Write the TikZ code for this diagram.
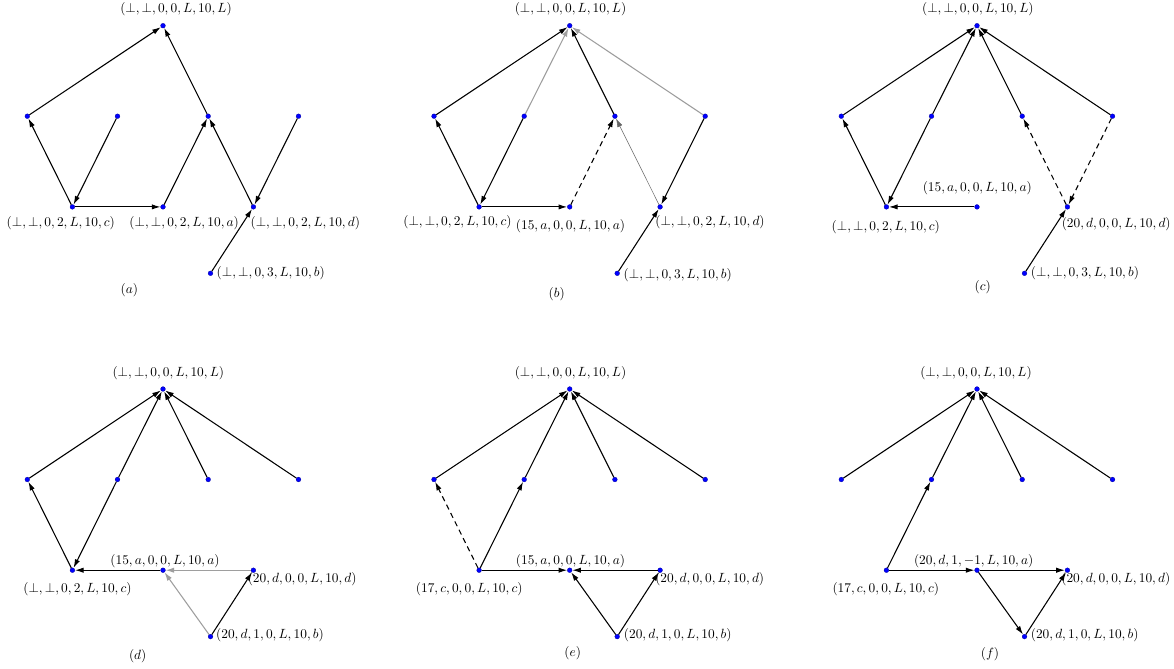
\documentclass[tikz,border=0pt]{standalone}
\usetikzlibrary{arrows.meta}
\begin{document}
\begin{tikzpicture}[x=0.75pt,y=-0.75pt,
  dot/.style={circle,fill=blue,draw=blue!60!black,line width=0.2pt,inner sep=0pt,minimum size=3.6pt},
  lbl/.style={inner sep=0pt,font=\fontsize{10}{12}\selectfont},
  e/.style={-{Latex[length=6.5pt,width=4pt]},line width=0.8pt,draw=black},
  g/.style={e,draw=black!38},
  tg/.style={e,draw=black!60,line width=0.4pt},
  ds/.style={e,dash pattern=on 4pt off 3pt}]
\useasboundingbox (0,0) rectangle (1174,668);
\newcommand{\mkpanel}[3]{%
  \begin{scope}[shift={(#2,#3)}]
    \node[dot] (#1T) at (0,0) {};
    \node[dot] (#1M1) at (-135.7,90.5) {};
    \node[dot] (#1M2) at (-45.5,90.5) {};
    \node[dot] (#1M3) at (45.2,90.5) {};
    \node[dot] (#1M4) at (135.5,90.5) {};
    \node[dot] (#1C) at (-90.6,181.2) {};
    \node[dot] (#1A) at (0,181.2) {};
    \node[dot] (#1D) at (90.4,181.2) {};
    \node[dot] (#1B) at (47.5,247.6) {};
  \end{scope}}
\mkpanel{a}{163}{25.7}
\mkpanel{b}{569.7}{25.7}
\mkpanel{c}{977}{25.7}
\mkpanel{d}{163}{389}
\mkpanel{e}{569.7}{389}
\mkpanel{f}{977}{389}
% labels (a)
\node[lbl] (aTl) at (176,9.3) {$(\bot,\bot,0,0,L,10,L)$};
\node[lbl] (aCl) at (60.8,222.7) {$(\bot,\bot,0,2,L,10,c)$};
\node[lbl] (aAl) at (184.2,222.7) {$(\bot,\bot,0,2,L,10,a)$};
\node[lbl] (aDl) at (305.3,222.7) {$(\bot,\bot,0,2,L,10,d)$};
\node[lbl] (aBl) at (270.8,272.7) {$(\bot,\bot,0,3,L,10,b)$};
\node[lbl] (aCap) at (129.3,290) {$(a)$};
% labels (b)
\node[lbl] (bTl) at (570.5,9.3) {$(\bot,\bot,0,0,L,10,L)$};
\node[lbl] (bCl) at (457.5,222.3) {$(\bot,\bot,0,2,L,10,c)$};
\node[lbl] (bAl) at (570.5,225.7) {$(15,a,0,0,L,10,a)$};
\node[lbl] (bDl) at (710,222.3) {$(\bot,\bot,0,2,L,10,d)$};
\node[lbl] (bBl) at (677.8,275.3) {$(\bot,\bot,0,3,L,10,b)$};
\node[lbl] (bCap) at (556.7,294.3) {$(b)$};
% labels (c)
\node[lbl] (cTl) at (977.8,9.3) {$(\bot,\bot,0,0,L,10,L)$};
\node[lbl] (cAl) at (977.3,188.3) {$(15,a,0,0,L,10,a)$};
\node[lbl] (cCl) at (885.8,227.3) {$(\bot,\bot,0,2,L,10,c)$};
\node[lbl] (cDl) at (1116.2,224) {$(20,d,0,0,L,10,d)$};
\node[lbl] (cBl) at (1085,272.7) {$(\bot,\bot,0,3,L,10,b)$};
\node[lbl] (cCap) at (982.7,286.7) {$(c)$};
% labels (d)
\node[lbl] (dTl) at (168.3,373.3) {$(\bot,\bot,0,0,L,10,L)$};
\node[lbl] (dAl) at (165,561.5) {$(15,a,0,0,L,10,a)$};
\node[lbl] (dCl) at (77.5,589.3) {$(\bot,\bot,0,2,L,10,c)$};
\node[lbl] (dDl) at (302.2,579.3) {$(20,d,0,0,L,10,d)$};
\node[lbl] (dBl) at (270,635.3) {$(20,d,1,0,L,10,b)$};
\node[lbl] (dCap) at (137.7,656) {$(d)$};
% labels (e)
\node[lbl] (eTl) at (570.5,373.3) {$(\bot,\bot,0,0,L,10,L)$};
\node[lbl] (eAl) at (570.5,561.5) {$(15,a,0,0,L,10,a)$};
\node[lbl] (eCl) at (469.2,589.3) {$(17,c,0,0,L,10,c)$};
\node[lbl] (eDl) at (709.7,579.3) {$(20,d,0,0,L,10,d)$};
\node[lbl] (eBl) at (677.8,635) {$(20,d,1,0,L,10,b)$};
\node[lbl] (eCap) at (572.7,653.3) {$(e)$};
% labels (f)
\node[lbl] (fTl) at (976,373.3) {$(\bot,\bot,0,0,L,10,L)$};
\node[lbl] (fAl) at (973.7,561.5) {$(20,d,1,-1,L,10,a)$};
\node[lbl] (fCl) at (885.8,589.3) {$(17,c,0,0,L,10,c)$};
\node[lbl] (fDl) at (1115.8,579.3) {$(20,d,0,0,L,10,d)$};
\node[lbl] (fBl) at (1084.7,635.3) {$(20,d,1,0,L,10,b)$};
\node[lbl] (fCap) at (990,654) {$(f)$};
% edges (a)
\draw[e] (aC) -- (aM1);
\draw[e] (aM1) -- (aT);
\draw[e] (aM2) -- (aC);
\draw[e] (aC) -- (aA);
\draw[e] (aA) -- (aM3);
\draw[e] (aM3) -- (aT);
\draw[e] (aD) -- (aM3);
\draw[e] (aM4) -- (aD);
\draw[e] (aB) -- (aD);
% edges (b)
\draw[e] (bC) -- (bM1);
\draw[e] (bM1) -- (bT);
\draw[g] (bM2) -- (bT);
\draw[e] (bM2) -- (bC);
\draw[e] (bC) -- (bA);
\draw[ds] (bA) -- (bM3);
\draw[e] (bM3) -- (bT);
\draw[tg] (bD) -- (bM3);
\draw[g] (bM4) -- (bT);
\draw[e] (bM4) -- (bD);
\draw[e] (bB) -- (bD);
% edges (c)
\draw[e] (cC) -- (cM1);
\draw[e] (cM1) -- (cT);
\draw[e] (cM2) -- (cT);
\draw[e] (cM2) -- (cC);
\draw[e] (cA) -- (cC);
\draw[ds] (cD) -- (cM3);
\draw[e] (cM3) -- (cT);
\draw[ds] (cM4) -- (cD);
\draw[e] (cM4) -- (cT);
\draw[e] (cB) -- (cD);
% edges (d)
\draw[e] (dC) -- (dM1);
\draw[e] (dM1) -- (dT);
\draw[e] (dM2) -- (dT);
\draw[e] (dM2) -- (dC);
\draw[e] (dM3) -- (dT);
\draw[e] (dM4) -- (dT);
\draw[e] (dA) -- (dC);
\draw[g] (dD) -- (dA);
\draw[g] (dB) -- (dA);
\draw[e] (dB) -- (dD);
% edges (e)
\draw[ds] (eC) -- (eM1);
\draw[e] (eM1) -- (eT);
\draw[e] (eC) -- (eM2);
\draw[e] (eM2) -- (eT);
\draw[e] (eM3) -- (eT);
\draw[e] (eM4) -- (eT);
\draw[e] (eC) -- (eA);
\draw[e] (eD) -- (eA);
\draw[e] (eB) -- (eA);
\draw[e] (eB) -- (eD);
% edges (f)
\draw[e] (fM1) -- (fT);
\draw[e] (fC) -- (fM2);
\draw[e] (fM2) -- (fT);
\draw[e] (fM3) -- (fT);
\draw[e] (fM4) -- (fT);
\draw[e] (fC) -- (fA);
\draw[e] (fA) -- (fD);
\draw[e] (fA) -- (fB);
\draw[e] (fB) -- (fD);
\end{tikzpicture}
\end{document}
